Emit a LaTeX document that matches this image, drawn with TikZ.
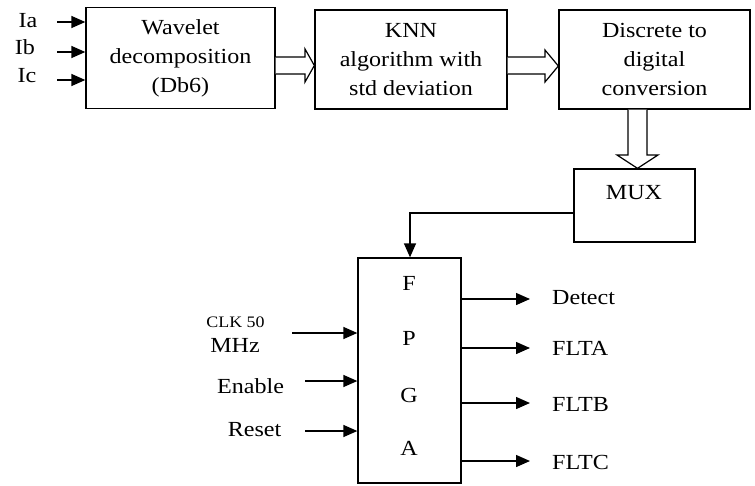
\documentclass[tikz,border=0pt]{standalone}
\usepackage{fontspec}
\setmainfont{Liberation Serif}[FakeStretch=1.12]
\usetikzlibrary{arrows.meta}
\begin{document}
\begin{tikzpicture}[x=1pt,y=-1pt,
  blk/.style={draw,line width=1.3pt,rectangle,inner sep=0pt,align=center,
    font=\fontsize{21.5}{29}\selectfont},
  txt/.style={inner sep=0pt,font=\fontsize{21.5}{29}\selectfont},
  small/.style={inner sep=0pt,font=\fontsize{16}{18}\selectfont},
  sig/.style={line width=1.4pt,-{Triangle[length=14pt,width=12pt]}},
  fat/.style={draw,line width=1.2pt,fill=white,line join=miter}]
\useasboundingbox (0,0) rectangle (755,485);
% main blocks
\node[blk,minimum width=189pt,minimum height=101pt] (wav) at (180.5,58) {Wavelet\\decomposition\\(Db6)};
\node[blk,minimum width=192pt,minimum height=99pt] (knn) at (411,59.5) {KNN\\algorithm with\\std deviation};
\node[blk,minimum width=191pt,minimum height=99pt] (dd) at (654.5,59.5) {Discrete to\\digital\\conversion};
\node[blk,minimum width=121pt,minimum height=73pt] (mux) at (634.5,205.5) {};
\node[txt] (muxt) at (634,193) {MUX};
\node[blk,minimum width=103pt,minimum height=225pt] (fpga) at (409.5,370.5) {};
\node[txt] (lf) at (409,283) {F};
\node[txt] (lp) at (409,338) {P};
\node[txt] (lg) at (409,395) {G};
\node[txt] (la) at (409,448) {A};
% fat arrows
\draw[fat] (wav.east |- 0,57) -- (305,57) -- (305,49) -- (knn.west |- 0,65.5) -- (305,82) -- (305,74) -- (wav.east |- 0,74);
\draw[fat] (knn.east |- 0,57) -- (545,57) -- (545,50) -- (dd.west |- 0,66) -- (545,82) -- (545,74) -- (knn.east |- 0,74);
\draw[fat] (628,0 |- dd.south) -- (628,155) -- (617,155) -- (637.5,0 |- mux.north) -- (658,155) -- (647,155) -- (647,0 |- dd.south);
% inputs to wavelet
\node[txt] (ia) at (28,21) {Ia};
\node[txt] (ib) at (25,47) {Ib};
\node[txt] (ic) at (27,76) {Ic};
\coordinate (sa) at (57,22);
\coordinate (sb) at (57,52);
\coordinate (sc) at (57,80);
\draw[sig] (sa) -- (sa -| wav.west);
\draw[sig] (sb) -- (sb -| wav.west);
\draw[sig] (sc) -- (sc -| wav.west);
% mux to fpga
\coordinate (bend) at (410,213);
\draw[sig] (mux.west |- bend) -- (bend) -- (bend |- fpga.north);
% fpga inputs
\node[small] (clk) at (235.5,322) {CLK 50};
\node[txt] (mhz) at (235,345) {MHz};
\node[txt] (en) at (250.5,386) {Enable};
\node[txt] (rs) at (254.5,430) {Reset};
\coordinate (ci) at (292,333);
\coordinate (ei) at (305,381);
\coordinate (ri) at (305,431);
\draw[sig] (ci) -- (ci -| fpga.west);
\draw[sig] (ei) -- (ei -| fpga.west);
\draw[sig] (ri) -- (ri -| fpga.west);
% fpga outputs
\coordinate (o1) at (530,299);
\coordinate (o2) at (530,348);
\coordinate (o3) at (530,403);
\coordinate (o4) at (530,461);
\draw[sig] (o1 -| fpga.east) -- (o1);
\draw[sig] (o2 -| fpga.east) -- (o2);
\draw[sig] (o3 -| fpga.east) -- (o3);
\draw[sig] (o4 -| fpga.east) -- (o4);
\node[txt,anchor=west] (det) at (552,298) {Detect};
\node[txt,anchor=west] (fa) at (552,348) {FLTA};
\node[txt,anchor=west] (fb) at (552,404) {FLTB};
\node[txt,anchor=west] (fc) at (552,462) {FLTC};
\end{tikzpicture}
\end{document}
